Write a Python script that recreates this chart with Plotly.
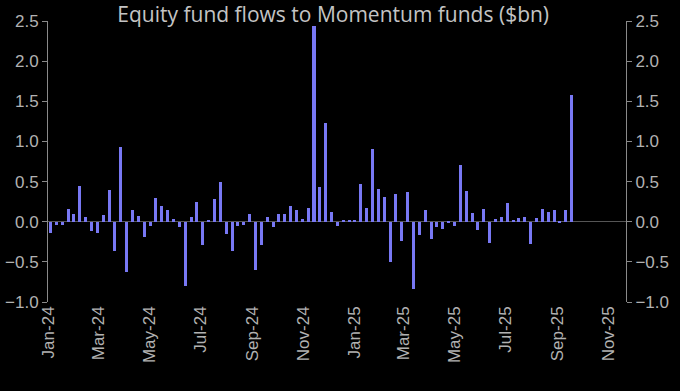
import pandas as pd
import plotly.graph_objects as go

# Weekly flows ($bn), first week of Jan-2024 through mid Sep-2025
start_week = "2024-01-04"
flows = [
    -0.14, -0.04, -0.04, 0.16, 0.09, 0.45, 0.06, -0.11, -0.14, 0.08,
    0.39, -0.36, 0.93, -0.63, 0.14, 0.07, -0.19, -0.05, 0.29, 0.20,
    0.15, 0.04, -0.07, -0.80, 0.06, 0.25, -0.29, 0.01, 0.28, 0.50,
    -0.15, -0.36, -0.05, -0.04, 0.09, -0.60, -0.29, 0.06, -0.07, 0.09,
    0.10, 0.20, 0.14, 0.04, 0.17, 2.44, 0.43, 1.23, 0.12, -0.05,
    0.02, 0.02, 0.01, 0.47, 0.17, 0.90, 0.41, 0.31, -0.50, 0.34,
    -0.24, 0.37, -0.84, -0.17, 0.14, -0.21, -0.06, -0.09, -0.01, -0.05,
    0.71, 0.38, 0.11, -0.10, 0.16, -0.26, 0.03, 0.06, 0.23, 0.01,
    0.05, 0.06, -0.28, 0.05, 0.16, 0.12, 0.14, -0.02, 0.15, 1.58,
]
weeks = pd.date_range(start_week, periods=len(flows), freq="7D")

tick_dates = ["2024-01-01", "2024-03-01", "2024-05-01", "2024-07-01", "2024-09-01",
              "2024-11-01", "2025-01-01", "2025-03-01", "2025-05-01", "2025-07-01",
              "2025-09-01", "2025-11-01"]
tick_labels = ["Jan-24", "Mar-24", "May-24", "Jul-24", "Sep-24", "Nov-24",
               "Jan-25", "Mar-25", "May-25", "Jul-25", "Sep-25", "Nov-25"]
y_ticks = [-1.0, -0.5, 0.0, 0.5, 1.0, 1.5, 2.0, 2.5]

bar_color = "#7878f4"
axis_color = "#8a8a8a"
text_color = "#b2b2b2"
font_family = "Liberation Sans, Arial, sans-serif"

fig = go.Figure()
fig.add_trace(go.Bar(
    x=weeks, y=flows, marker=dict(color=bar_color, line=dict(width=0)),
    width=3.6 * 24 * 3600 * 1000, showlegend=False, hoverinfo="x+y",
))
# invisible trace to activate the right axis
fig.add_trace(go.Scatter(x=[weeks[0]], y=[0], yaxis="y2", mode="markers",
                         marker=dict(opacity=0), showlegend=False, hoverinfo="skip"))

yaxis_common = dict(
    range=[-1.0, 2.5], tickvals=y_ticks, tickformat=".1f",
    showline=True, linecolor=axis_color, linewidth=1,
    ticks="outside", ticklen=5, tickcolor=axis_color, tickwidth=1,
    showgrid=False, automargin=False,
    tickfont=dict(family=font_family, size=17, color=text_color),
)

fig.update_layout(
    width=680, height=391,
    paper_bgcolor="black", plot_bgcolor="black",
    margin=dict(l=48, r=54, t=21, b=89, autoexpand=False),
    title=dict(text="Equity fund flows to Momentum funds ($bn)",
               x=0.49, xanchor="center", y=1 - 15 / 391, yanchor="middle",
               yref="container",
               font=dict(family="Open Sans, sans-serif", size=21, color="#c4c4c4")),
    xaxis=dict(type="date", range=["2024-01-01", "2025-11-22"],
               tickvals=tick_dates, ticktext=tick_labels, tickangle=-90,
               showline=False, showgrid=False, zeroline=False, ticks="",
               automargin=False,
               tickfont=dict(family=font_family, size=17, color=text_color)),
    yaxis=dict(**yaxis_common, zeroline=True, zerolinecolor="#555555", zerolinewidth=1),
    yaxis2=dict(**yaxis_common, overlaying="y", side="right", zeroline=False),
    bargap=0,
)

fig.write_html("out.html",
               config={"displayModeBar": False},
               post_script="document.body.style.margin='0px';document.body.style.background='black';")
